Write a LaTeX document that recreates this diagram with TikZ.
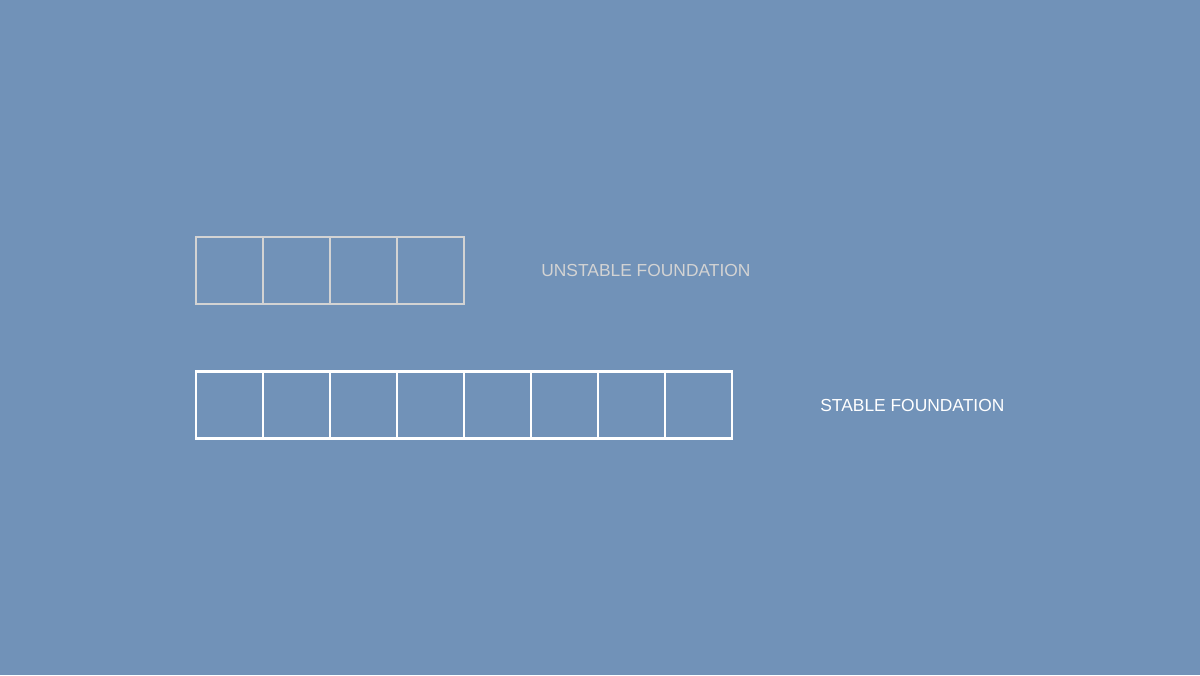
\documentclass[tikz,border=0pt]{standalone}
\usepackage{fontspec}
\setmainfont{Liberation Sans}
\usetikzlibrary{positioning}
\definecolor{bgblue}{HTML}{7192B8}
\definecolor{palegray}{HTML}{D3D3D3}
\tikzstyle{weakbox} = [rectangle, minimum size=1.34cm, inner sep=0pt, outer sep=0pt, draw=palegray, line width=1.2pt]
\tikzstyle{strongbox} = [rectangle, minimum size=1.34cm, inner sep=0pt, outer sep=0pt, draw=white, line width=1.2pt]
\tikzstyle{caption} = [inner sep=0pt, anchor=west, font=\fontsize{9.9}{11}\selectfont]

\begin{document}
\begin{tikzpicture}[node distance=0cm]
        \fill [bgblue] (0,0) rectangle (24,-13.5);
        \useasboundingbox (0,0) rectangle (24,-13.5);

        % unstable row
        \node (u1) [weakbox] at (4.59,-5.417) {};
        \node (u2) [weakbox, right=of u1] {};
        \node (u3) [weakbox, right=of u2] {};
        \node (u4) [weakbox, right=of u3] {};
        \node (unstable) [caption, text=palegray, right=1.54cm of u4] {UNSTABLE FOUNDATION};

        % stable row
        \node (s1) [strongbox] at (4.59,-8.1) {};
        \node (s2) [strongbox, right=of s1] {};
        \node (s3) [strongbox, right=of s2] {};
        \node (s4) [strongbox, right=of s3] {};
        \node (s5) [strongbox, right=of s4] {};
        \node (s6) [strongbox, right=of s5] {};
        \node (s7) [strongbox, right=of s6] {};
        \node (s8) [strongbox, right=of s7] {};
        \node (stable) [caption, text=white, right=1.76cm of s8] {STABLE FOUNDATION};
    \end{tikzpicture}
\end{document}
